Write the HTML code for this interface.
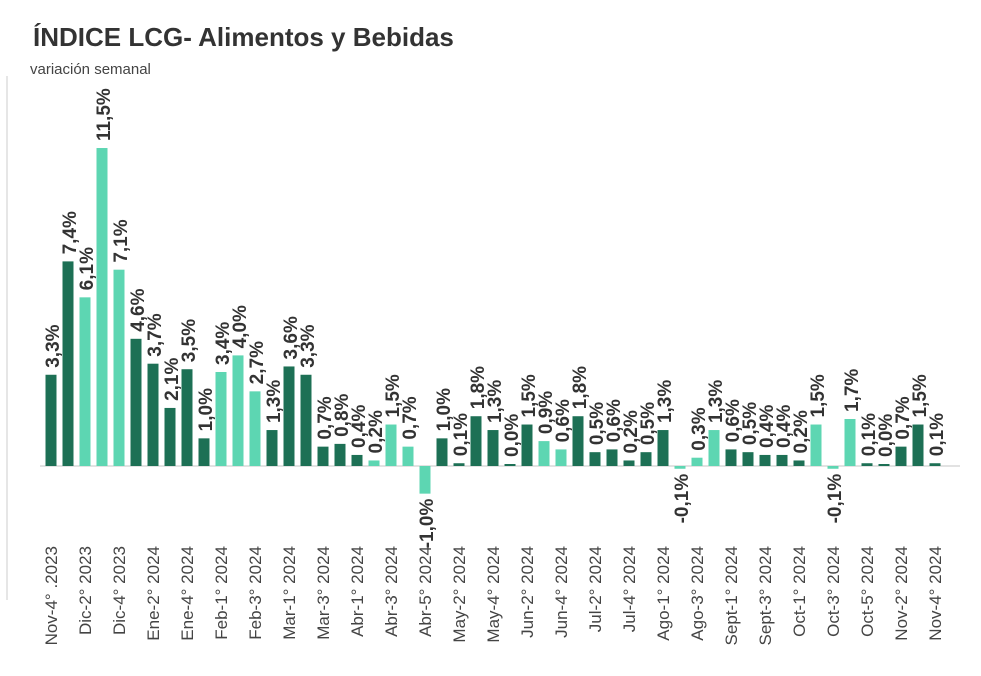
<!DOCTYPE html>
<html><head><meta charset="utf-8"><style>
body{margin:0;background:#fff;width:981px;height:671px;overflow:hidden;font-family:"Liberation Sans",sans-serif}
</style></head><body>
<svg id="s" width="981" height="671" xmlns="http://www.w3.org/2000/svg">
<text x="33" y="46" font-size="26" font-weight="bold" fill="#333" font-family="Liberation Sans, sans-serif">ÍNDICE LCG- Alimentos y Bebidas</text>
<text x="30" y="74" font-size="15" fill="#444" font-family="Liberation Sans, sans-serif">variación semanal</text>
<line x1="7" y1="76" x2="7" y2="600" stroke="#ddd" stroke-width="1.5"/>
<line x1="40" y1="466" x2="960" y2="466" stroke="#d9d9d9" stroke-width="1.5"/>
</svg>
<script>
var v=[3.3,7.4,6.1,11.5,7.1,4.6,3.7,2.1,3.5,1.0,3.4,4.0,2.7,1.3,3.6,3.3,0.7,0.8,0.4,0.2,1.5,0.7,-1.0,1.0,0.1,1.8,1.3,0.0,1.5,0.9,0.6,1.8,0.5,0.6,0.2,0.5,1.3,-0.1,0.3,1.3,0.6,0.5,0.4,0.4,0.2,1.5,-0.1,1.7,0.1,0.0,0.7,1.5,0.1];
var light=[3,4,5,11,12,13,20,21,22,23,30,31,38,39,40,46,47,48];
var cats=["Nov-4° .2023","Dic-2° 2023","Dic-4° 2023","Ene-2° 2024","Ene-4° 2024","Feb-1° 2024","Feb-3° 2024","Mar-1° 2024","Mar-3° 2024","Abr-1° 2024","Abr-3° 2024","Abr-5° 2024","May-2° 2024","May-4° 2024","Jun-2° 2024","Jun-4° 2024","Jul-2° 2024","Jul-4° 2024","Ago-1° 2024","Ago-3° 2024","Sept-1° 2024","Sept-3° 2024","Oct-1° 2024","Oct-3° 2024","Oct-5° 2024","Nov-2° 2024","Nov-4° 2024"];
var s=document.getElementById('s'),h='',k=27.65,b=466;
v.forEach(function(d,i){
 var cx=51+i*17.0,c=light.indexOf(i+1)>=0?'#5dd6b2':'#1d7055';
 var hh=Math.max(Math.abs(d)*k,2),y=d>=0?b-hh:b;
 h+='<rect x="'+(cx-5.5)+'" y="'+y+'" width="11" height="'+hh+'" fill="'+c+'"/>';
 var t=(d<0?'-':'')+Math.abs(d).toFixed(1).replace('.',',')+'%';
 if(d>=0){var ty=y-7;h+='<text transform="translate('+(cx+8)+','+ty+') rotate(-90)" font-size="19" font-weight="bold" fill="#333" font-family="Liberation Sans, sans-serif">'+t+'</text>';}
 else{var ty=y+hh+5;h+='<text transform="translate('+(cx+8)+','+ty+') rotate(-90)" text-anchor="end" font-size="19" font-weight="bold" fill="#333" font-family="Liberation Sans, sans-serif">'+t+'</text>';}
});
cats.forEach(function(c,j){var cx=51+j*34;
 h+='<text transform="translate('+(cx+6)+',546) rotate(-90)" text-anchor="end" font-size="17" fill="#444" font-family="Liberation Sans, sans-serif">'+c+'</text>';});
s.insertAdjacentHTML('beforeend',h);
</script>
</body></html>
